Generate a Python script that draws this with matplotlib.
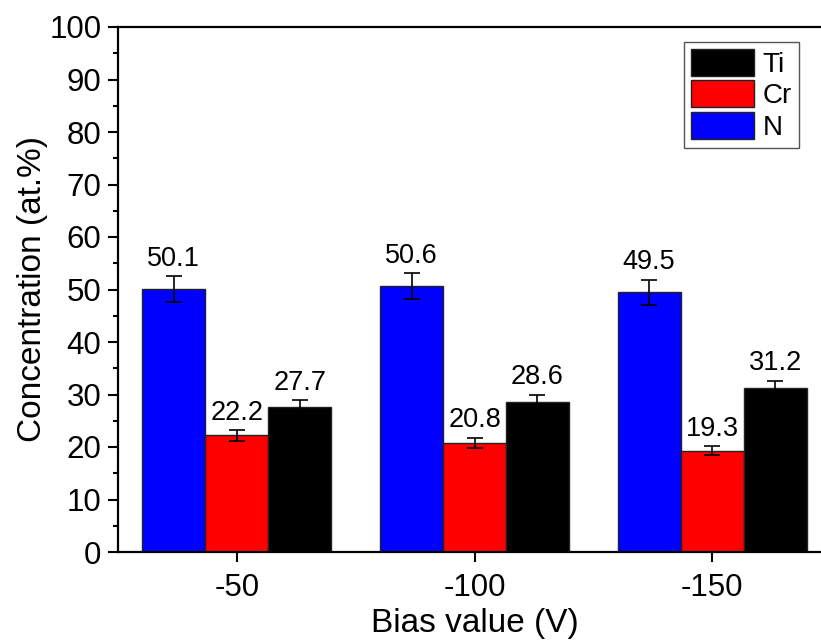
import matplotlib.pyplot as plt
import numpy as np

plt.rcParams['font.family'] = ['Liberation Sans', 'DejaVu Sans']

# Zusammensetzung der Schichten je Bias-Spannung
bias = ['-50', '-100', '-150']
n_conc = [50.1, 50.6, 49.5]
cr_conc = [22.2, 20.8, 19.3]
ti_conc = [27.7, 28.6, 31.2]
n_err = [2.5, 2.5, 2.4]
cr_err = [1.1, 1.0, 0.9]
ti_err = [1.3, 1.4, 1.45]

fig = plt.figure(figsize=(8.21, 6.44), dpi=100)
ax = fig.add_axes([118 / 821, 92 / 644, 713 / 821, 525 / 644])

x = np.arange(len(bias))
w = 0.265
series = [
    (n_conc, n_err, '#0000ff', 'N', -w),
    (cr_conc, cr_err, '#ff0000', 'Cr', 0),
    (ti_conc, ti_err, '#000000', 'Ti', w),
]
handles = {}
for vals, errs, col, name, off in series:
    bars = ax.bar(x + off, vals, w, color=col, edgecolor='#222222', linewidth=1.0,
                  yerr=errs, capsize=5.5,
                  error_kw=dict(ecolor='black', elinewidth=1.2, capthick=1.2),
                  label=name, zorder=2)
    handles[name] = bars
    for xi, v, e in zip(x + off, vals, errs):
        ax.annotate(f'{v:.1f}', (xi, v + e), xytext=(0, 3), textcoords='offset points',
                    ha='center', va='bottom', fontsize=19.5)

ax.set_xlim(-0.5, 2.5)
ax.set_ylim(0, 100)
ax.set_xticks(x)
ax.set_xticklabels(bias)
ax.set_yticks(np.arange(0, 101, 10))
ax.set_yticks(np.arange(5, 100, 10), minor=True)
ax.tick_params(axis='both', which='major', labelsize=22.5, length=7, width=1.5, direction='out')
ax.tick_params(axis='y', which='minor', length=3.6, width=1.5, direction='out')
ax.tick_params(axis='x', pad=8)
ax.tick_params(axis='y', pad=5)
ax.set_xlabel('Bias value (V)', fontsize=24, labelpad=4)
ax.set_ylabel('Concentration (at.%)', fontsize=24, labelpad=1)
for s in ['left', 'bottom', 'top']:
    ax.spines[s].set_linewidth(1.6)
ax.spines['right'].set_visible(False)

leg = ax.legend([handles['Ti'], handles['Cr'], handles['N']], ['Ti', 'Cr', 'N'],
                loc='upper left', bbox_to_anchor=((684 - 118) / 713, 1 - 15 / 525),
                bbox_transform=ax.transAxes,
                fontsize=20, handlelength=2.27, handleheight=1.1, labelspacing=0.1,
                handletextpad=0.3, borderpad=0.25, borderaxespad=0,
                fancybox=False, edgecolor='#555555', framealpha=1)
leg.get_frame().set_linewidth(1.0)

fig.savefig('out.png', dpi=100)
